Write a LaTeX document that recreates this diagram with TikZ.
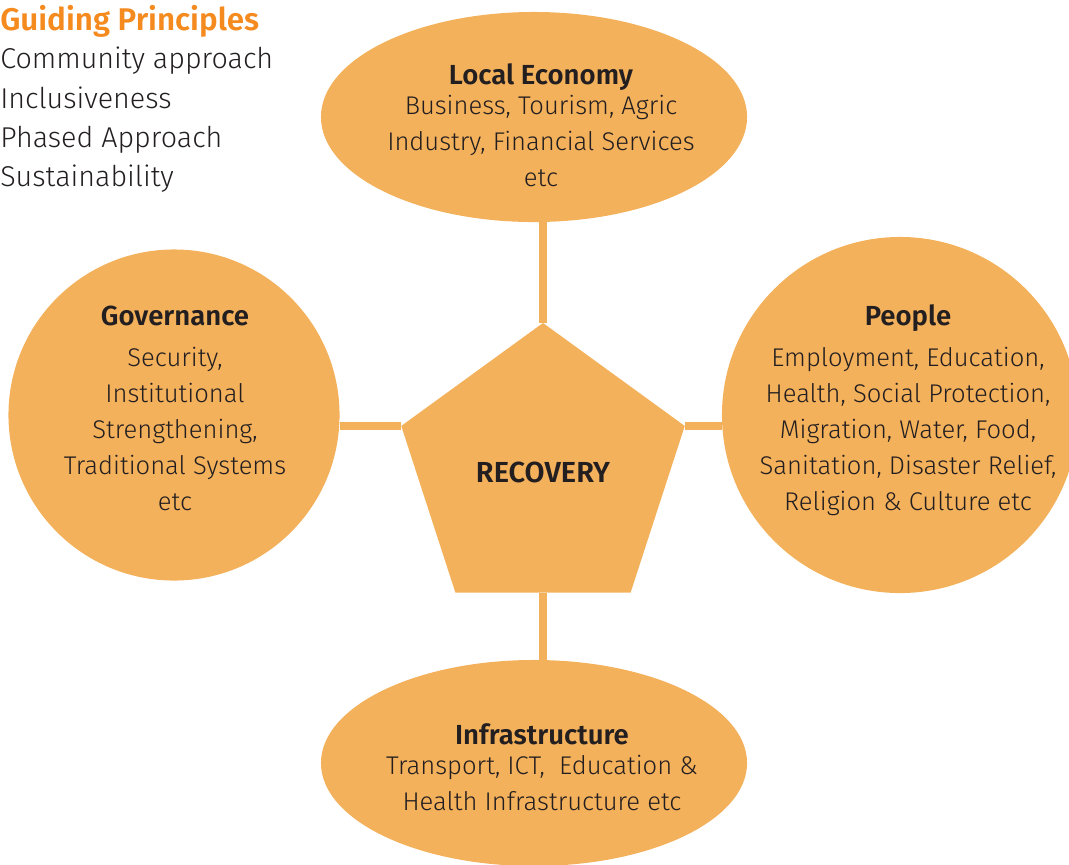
\documentclass[tikz,border=0pt]{standalone}
\usepackage{fontspec}
\setmainfont{Fira Sans Light}[BoldFont={Fira Sans SemiBold}]
\usetikzlibrary{shapes.geometric}

\definecolor{petal}{HTML}{F4B15C}
\definecolor{guide}{HTML}{F58A1F}
\definecolor{ink}{HTML}{231F20}

\newcommand{\bodysize}{\fontsize{18.2}{25.6}\selectfont}
\newcommand{\head}[1]{{\fontsize{19.6}{25.6}\selectfont\bfseries #1}}

\begin{document}
\begin{tikzpicture}[x=0.025cm, y=-0.025cm,
    petal/.style={fill=petal, draw=none, inner sep=0pt},
    blurb/.style={text=ink, align=center, font=\bodysize, inner sep=0pt},
    link/.style={draw=petal, line width=0.19cm}]
  \useasboundingbox (0,0) rectangle (1069,864);

  % guiding principles, top left
  \node[anchor=base west, inner sep=0pt, text=guide, font=\fontsize{22.3}{28}\selectfont\bfseries] (guiding) at (0,30) {Guiding Principles};
  \node[anchor=west, inner sep=0pt, text=ink, align=left, font=\fontsize{20.4}{28}\selectfont] (principles) at (0,120)
    {Community approach\\Inclusiveness\\Phased Approach\\Sustainability};

  % the four pillars
  \node[petal, ellipse, minimum width=10.65cm, minimum height=5.25cm] (economy) at (534,117) {};
  \node[petal, circle, minimum size=8.275cm] (governance) at (174,415) {};
  \node[petal, circle, minimum size=8.9cm] (people) at (900,415) {};
  \node[petal, ellipse, minimum width=10.65cm, minimum height=5.15cm] (infra) at (534,763) {};

  \node[blurb] (economy-text) at (541,125)
    {\head{Local Economy}\\[-4pt]Business, Tourism, Agric\\Industry, Financial Services\\etc};
  \node[blurb] (governance-text) at (175,408)
    {\head{Governance}\\[3.5pt]Security,\\Institutional\\Strengthening,\\Traditional Systems\\etc};
  \node[blurb] (people-text) at (908,410)
    {\head{People}\\[3.5pt]Employment, Education,\\Health, Social Protection,\\Migration, Water, Food,\\Sanitation, Disaster Relief,\\Religion \& Culture etc};
  \node[blurb] (infra-text) at (542,767)
    {\head{Infrastructure}\\[-4pt]Transport, ICT,\ \ Education \&\\Health Infrastructure etc};

  % centre
  \node[petal, regular polygon, regular polygon sides=5, minimum size=7.45cm,
        text=ink, font=\fontsize{20.6}{25}\selectfont\bfseries] (recovery) at (543,472) {RECOVERY};

  \path[link] (recovery.corner 1) edge (recovery.corner 1 |- economy.south);
  \path[link] (recovery.south) edge (recovery.south |- infra.north);
  \path[link] (recovery.corner 2) edge (recovery.corner 2 -| governance.east);
  \path[link] (recovery.corner 5) edge (recovery.corner 5 -| people.west);
\end{tikzpicture}
\end{document}
